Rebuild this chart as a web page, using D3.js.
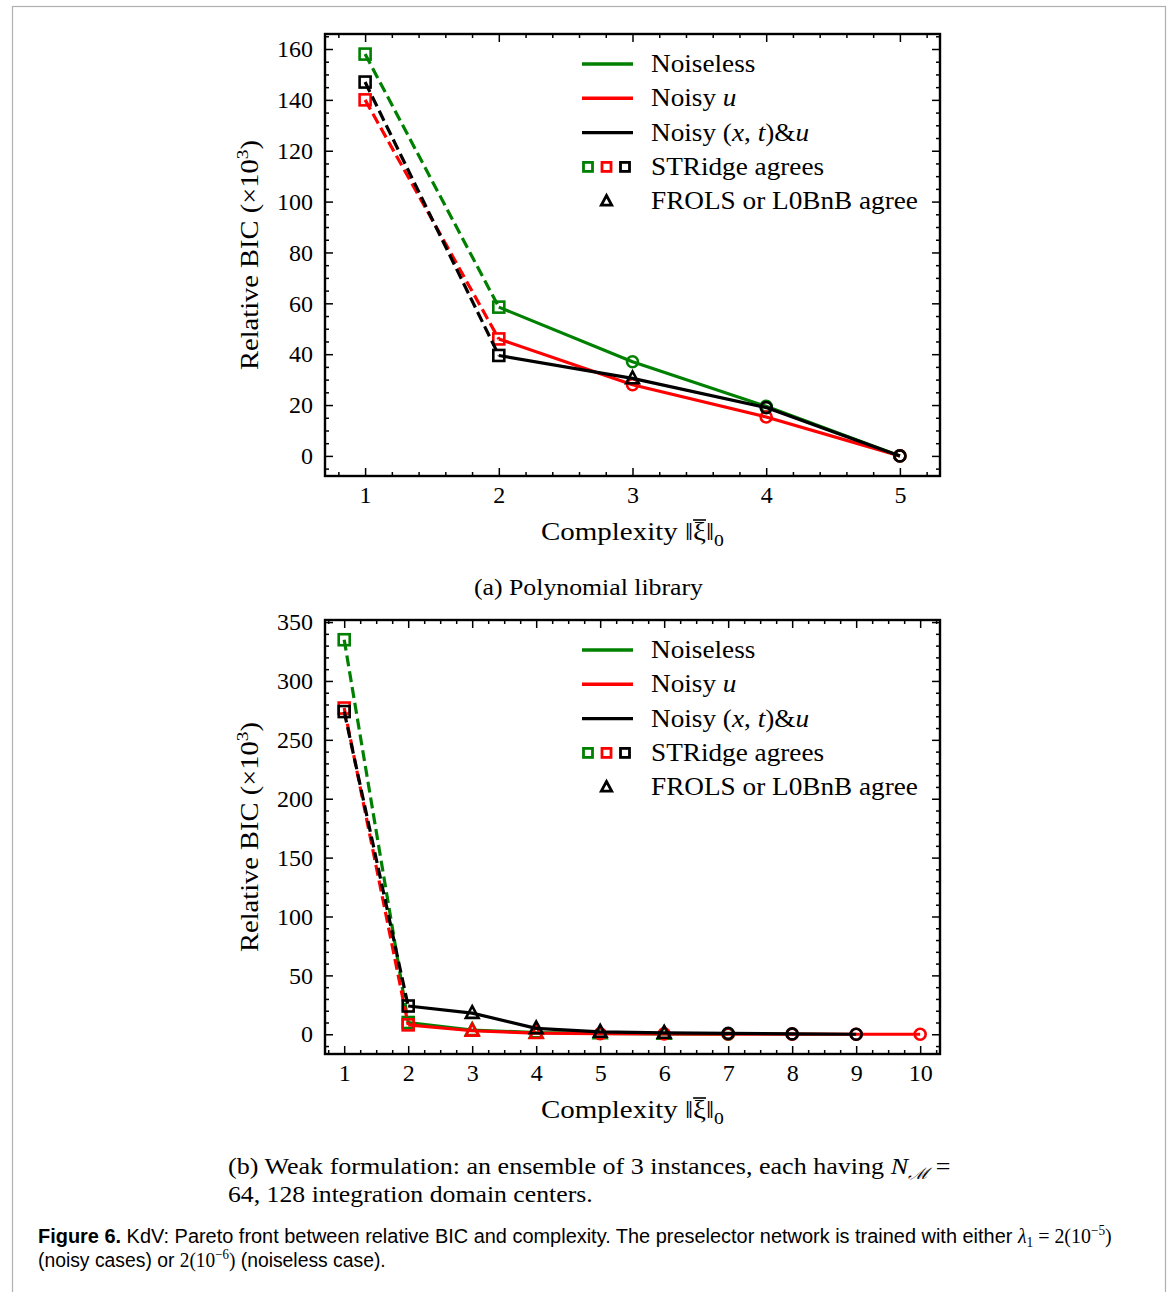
<!DOCTYPE html>
<html><head><meta charset="utf-8">
<script src="https://cdn.jsdelivr.net/npm/d3@7"></script>
<style>body{margin:0;background:#fff}svg{display:block}</style>
</head><body>
<script>
// ---------- DATA ----------
const seriesNames = ["Noiseless", "Noisy u", "Noisy (x,t)&u"];
const seriesColors = ["#008000", "#ff0000", "#000000"];

// Panel (a): polynomial library
const topX = [1, 2, 3, 4, 5];
const topNoiseless = [158, 58.5, 37, 19.5, 0];
const topNoisyU = [140, 46, 28, 15.3, 0];
const topNoisyXTU = [147, 39.5, 30.5, 19, 0];
const topMarkNoiseless = ["s", "s", "o", "o", "o"];
const topMarkNoisyU = ["s", "s", "o", "o", "o"];
const topMarkNoisyXTU = ["s", "s", "^", "o", "o"];
const topXTicks = [1, 2, 3, 4, 5];
const topYTicks = [0, 20, 40, 60, 80, 100, 120, 140, 160];

// Panel (b): weak formulation
const botXNoiseless = [1, 2, 3, 4, 5, 6, 7];
const botNoiseless = [335, 10, 3.5, 1.5, 0.8, 0.3, 0];
const botMarkNoiseless = ["s", "s", "^", "^", "^", "^", "o"];
const botXNoisyU = [1, 2, 3, 4, 5, 6, 7, 8, 9, 10];
const botNoisyU = [277, 8, 3, 1, 0.5, 0.3, 0.2, 0.1, 0, 0];
const botMarkNoisyU = ["s", "s", "^", "^", "o", "o", "o", "o", "o", "o"];
const botXNoisyXTU = [1, 2, 3, 4, 5, 6, 7, 8, 9];
const botNoisyXTU = [274, 24, 18, 5, 2, 1.2, 0.8, 0.3, 0];
const botMarkNoisyXTU = ["s", "s", "^", "^", "^", "^", "o", "o", "o"];
const botXTicks = [1, 2, 3, 4, 5, 6, 7, 8, 9, 10];
const botYTicks = [0, 50, 100, 150, 200, 250, 300, 350];

// ---------- DRAW ----------
const W = 1170, H = 1292;
const serif = "'Liberation Serif', 'Times New Roman', serif";
const svg = d3.select("body").append("svg").attr("width", W).attr("height", H);
svg.append("rect").attr("width", W).attr("height", H).attr("fill", "#fff");
svg.append("rect").attr("x", 12.5).attr("y", 6.5).attr("width", 1153).attr("height", 1400)
  .attr("fill", "none").attr("stroke", "#b0b0b0").attr("stroke-width", 1.2);

function fitX(sel, x0, target) {
  const w = sel.node().getBBox().width;
  const s = target / w;
  sel.attr("transform", `translate(${x0},0) scale(${s},1) translate(${-x0},0)`);
}
function scaleX(sel, x0, s) {
  sel.attr("transform", `translate(${x0},0) scale(${s},1) translate(${-x0},0)`);
}

function marker(g, type, x, y, color, size, sw) {
  sw = sw || 2.6;
  if (type === "s") {
    g.append("rect").attr("x", x - size / 2).attr("y", y - size / 2).attr("width", size).attr("height", size)
      .attr("fill", "none").attr("stroke", color).attr("stroke-width", sw);
  } else if (type === "o") {
    g.append("circle").attr("cx", x).attr("cy", y).attr("r", size / 2)
      .attr("fill", "none").attr("stroke", color).attr("stroke-width", sw);
  } else {
    const s = size * 1.05;
    const pts = [[x, y - s * 0.6], [x + s * 0.55, y + s * 0.42], [x - s * 0.55, y + s * 0.42]];
    g.append("path").attr("d", "M" + pts.map(p => p.join(",")).join("L") + "Z")
      .attr("fill", "none").attr("stroke", color).attr("stroke-width", sw).attr("stroke-linejoin", "miter");
  }
}

function panel(o) {
  const g = svg.append("g");
  const x = d3.scaleLinear().domain(o.xDomain).range([o.left, o.right]);
  const y = d3.scaleLinear().domain(o.yDomain).range([o.bottom, o.top]);
  const h = o.bottom - o.top, w = o.right - o.left;

  const minorX = d3.range(Math.ceil(o.xDomain[0] / o.xMinor) * o.xMinor, o.xDomain[1], o.xMinor)
    .filter(v => !o.xTicks.some(t => Math.abs(t - v) < 1e-6));
  const minorY = d3.range(Math.ceil(o.yDomain[0] / o.yMinor) * o.yMinor, o.yDomain[1], o.yMinor)
    .filter(v => !o.yTicks.some(t => Math.abs(t - v) < 1e-6));

  const styleAxis = sel => {
    sel.select(".domain").remove();
    sel.selectAll(".tick line").attr("stroke", "#000").attr("stroke-width", 1.5);
    sel.selectAll(".tick text").attr("font-family", serif).attr("font-size", 24).attr("fill", "#000");
  };
  g.append("g").attr("transform", `translate(0,${o.bottom})`)
    .call(d3.axisBottom(x).tickValues(o.xTicks).tickFormat(d3.format("d")).tickSize(-8).tickPadding(10)).call(styleAxis);
  g.append("g").attr("transform", `translate(0,${o.bottom})`)
    .call(d3.axisBottom(x).tickValues(minorX).tickFormat("").tickSize(-4)).call(styleAxis);
  g.append("g").attr("transform", `translate(0,${o.top})`)
    .call(d3.axisTop(x).tickValues(o.xTicks).tickFormat("").tickSize(-8)).call(styleAxis);
  g.append("g").attr("transform", `translate(0,${o.top})`)
    .call(d3.axisTop(x).tickValues(minorX).tickFormat("").tickSize(-4)).call(styleAxis);
  g.append("g").attr("transform", `translate(${o.left},0)`)
    .call(d3.axisLeft(y).tickValues(o.yTicks).tickFormat(d3.format("d")).tickSize(-8).tickPadding(12)).call(styleAxis);
  g.append("g").attr("transform", `translate(${o.left},0)`)
    .call(d3.axisLeft(y).tickValues(minorY).tickFormat("").tickSize(-4)).call(styleAxis);
  g.append("g").attr("transform", `translate(${o.right},0)`)
    .call(d3.axisRight(y).tickValues(o.yTicks).tickFormat("").tickSize(-8)).call(styleAxis);
  g.append("g").attr("transform", `translate(${o.right},0)`)
    .call(d3.axisRight(y).tickValues(minorY).tickFormat("").tickSize(-4)).call(styleAxis);

  g.append("rect").attr("x", o.left).attr("y", o.top).attr("width", w).attr("height", h)
    .attr("fill", "none").attr("stroke", "#000").attr("stroke-width", 2.4);

  const line = d3.line().x(d => x(d[0])).y(d => y(d[1]));
  o.series.forEach(s => {
    const pts = s.xs.map((v, i) => [v, s.ys[i]]);
    g.append("path").attr("d", line(pts.slice(0, 2))).attr("fill", "none").attr("stroke", s.color)
      .attr("stroke-width", 3.2).attr("stroke-dasharray", "11,5");
    g.append("path").attr("d", line(pts.slice(1))).attr("fill", "none").attr("stroke", s.color)
      .attr("stroke-width", 3.2).attr("stroke-linejoin", "round");
    pts.forEach((p, i) => marker(g, s.marks[i], x(p[0]), y(p[1]), s.color, s.marks[i] === "o" ? 11 : 11));
  });

  // legend
  const lx1 = o.right - 358, lx2 = o.right - 307, tx = o.right - 289;
  const rowY = i => o.top + 30 + i * 34.3;
  const fs = 25, ls = 1.09;
  seriesNames.forEach((n, i) => {
    g.append("line").attr("x1", lx1).attr("x2", lx2).attr("y1", rowY(i)).attr("y2", rowY(i))
      .attr("stroke", seriesColors[i]).attr("stroke-width", 3.4);
  });
  const t0 = g.append("text").attr("x", tx).attr("y", rowY(0) + 8).attr("font-family", serif).attr("font-size", fs).text("Noiseless");
  const t1 = g.append("text").attr("x", tx).attr("y", rowY(1) + 8).attr("font-family", serif).attr("font-size", fs);
  t1.append("tspan").text("Noisy ");
  t1.append("tspan").attr("font-style", "italic").text("u");
  const t2 = g.append("text").attr("x", tx).attr("y", rowY(2) + 8).attr("font-family", serif).attr("font-size", fs);
  t2.append("tspan").text("Noisy (");
  t2.append("tspan").attr("font-style", "italic").text("x");
  t2.append("tspan").text(", ");
  t2.append("tspan").attr("font-style", "italic").text("t");
  t2.append("tspan").text(")&");
  t2.append("tspan").attr("font-style", "italic").text("u");
  [0, 1, 2].forEach(i => marker(g, "s", lx1 + 6 + i * 18.5, rowY(3), seriesColors[i], 9, 2.8));
  const t3 = g.append("text").attr("x", tx).attr("y", rowY(3) + 8).attr("font-family", serif).attr("font-size", fs).text("STRidge agrees");
  marker(g, "^", lx1 + 24.5, rowY(4), "#000", 9, 2.8);
  const t4 = g.append("text").attr("x", tx).attr("y", rowY(4) + 8).attr("font-family", serif).attr("font-size", fs).text("FROLS or L0BnB agree");
  [t0, t1, t2, t3, t4].forEach(t => scaleX(t, tx, ls));

  // y label
  const cy = (o.top + o.bottom) / 2;
  const yl = g.append("text").attr("transform", `translate(258,${cy}) rotate(-90) scale(1.14,1)`).attr("text-anchor", "middle")
    .attr("font-family", serif).attr("font-size", 25);
  yl.append("tspan").text("Relative BIC (×10");
  yl.append("tspan").attr("font-size", 17).attr("dy", -10).text("3");
  yl.append("tspan").attr("dy", 10).text(")");

  // x label
  const cx = (o.left + o.right) / 2;
  const xg = g.append("g");
  const xl = xg.append("text").attr("x", cx).attr("y", o.bottom + 64).attr("text-anchor", "middle")
    .attr("font-family", serif).attr("font-size", 25);
  xl.append("tspan").text("Complexity ‖");
  xl.append("tspan").text("ξ");
  xl.append("tspan").text("‖");
  xl.append("tspan").attr("font-size", 17).attr("dy", 6).text("0");
  const ext = xl.node().getExtentOfChar(12);
  xg.append("line").attr("x1", ext.x).attr("x2", ext.x + ext.width).attr("y1", ext.y + 2).attr("y2", ext.y + 2)
    .attr("stroke", "#000").attr("stroke-width", 1.6);
  const bb = xl.node().getBBox();
  scaleX(xg, bb.x, 183 / bb.width);
  xg.attr("transform", `translate(${541},0) scale(${183 / bb.width},1) translate(${-bb.x},0)`);
  return g;
}

panel({
  left: 325, right: 940, top: 34, bottom: 476,
  xDomain: [0.7, 5.3], yDomain: [-7.9, 165.9],
  xTicks: topXTicks, yTicks: topYTicks, xMinor: 0.2, yMinor: 5,
  series: [
    { xs: topX, ys: topNoiseless, marks: topMarkNoiseless, color: seriesColors[0] },
    { xs: topX, ys: topNoisyU, marks: topMarkNoisyU, color: seriesColors[1] },
    { xs: topX, ys: topNoisyXTU, marks: topMarkNoisyXTU, color: seriesColors[2] }
  ]
});
panel({
  left: 325, right: 940, top: 620, bottom: 1054,
  xDomain: [0.7, 10.31], yDomain: [-16.75, 351.75],
  xTicks: botXTicks, yTicks: botYTicks, xMinor: 0.25, yMinor: 10,
  series: [
    { xs: botXNoiseless, ys: botNoiseless, marks: botMarkNoiseless, color: seriesColors[0] },
    { xs: botXNoisyU, ys: botNoisyU, marks: botMarkNoisyU, color: seriesColors[1] },
    { xs: botXNoisyXTU, ys: botNoisyXTU, marks: botMarkNoisyXTU, color: seriesColors[2] }
  ]
});

// sub-captions
const ca = svg.append("text").attr("x", 474).attr("y", 595)
  .attr("font-family", serif).attr("font-size", 24).text("(a) Polynomial library");
fitX(ca, 474, 229);

const cb1 = svg.append("text").attr("x", 228).attr("y", 1174).attr("font-family", serif).attr("font-size", 23);
cb1.append("tspan").text("(b) Weak formulation: an ensemble of 3 instances, each having ");
cb1.append("tspan").attr("font-style", "italic").text("N");
cb1.append("tspan").attr("font-style", "italic").attr("font-size", 16).attr("dy", 5).text("ℳ");
cb1.append("tspan").attr("dy", -5).text(" =");
fitX(cb1, 228, 722);
const cb2 = svg.append("text").attr("x", 228).attr("y", 1202).attr("font-family", serif).attr("font-size", 23)
  .text("64, 128 integration domain centers.");
fitX(cb2, 228, 365);

// figure caption
const sans = "'Liberation Sans', Arial, sans-serif";
const fc1 = svg.append("text").attr("x", 38).attr("y", 1243).attr("font-family", sans).attr("font-size", 21);
fc1.append("tspan").attr("font-weight", "bold").text("Figure 6.");
fc1.append("tspan").text(" KdV: Pareto front between relative BIC and complexity. The preselector network is trained with either ");
fc1.append("tspan").attr("font-family", serif).attr("font-style", "italic").text("λ");
fc1.append("tspan").attr("font-family", serif).attr("font-size", 14).attr("dy", 4).text("1");
fc1.append("tspan").attr("font-family", serif).attr("dy", -4).text(" = 2(10");
fc1.append("tspan").attr("font-family", serif).attr("font-size", 14).attr("dy", -8).text("−5");
fc1.append("tspan").attr("font-family", serif).attr("dy", 8).text(")");
fitX(fc1, 38, 1074);
const fc2 = svg.append("text").attr("x", 38).attr("y", 1267).attr("font-family", sans).attr("font-size", 21);
fc2.append("tspan").text("(noisy cases) or ");
fc2.append("tspan").attr("font-family", serif).text("2(10");
fc2.append("tspan").attr("font-family", serif).attr("font-size", 14).attr("dy", -8).text("−6");
fc2.append("tspan").attr("font-family", serif).attr("dy", 8).text(")");
fc2.append("tspan").text(" (noiseless case).");
fitX(fc2, 38, 348);
</script>
</body></html>
